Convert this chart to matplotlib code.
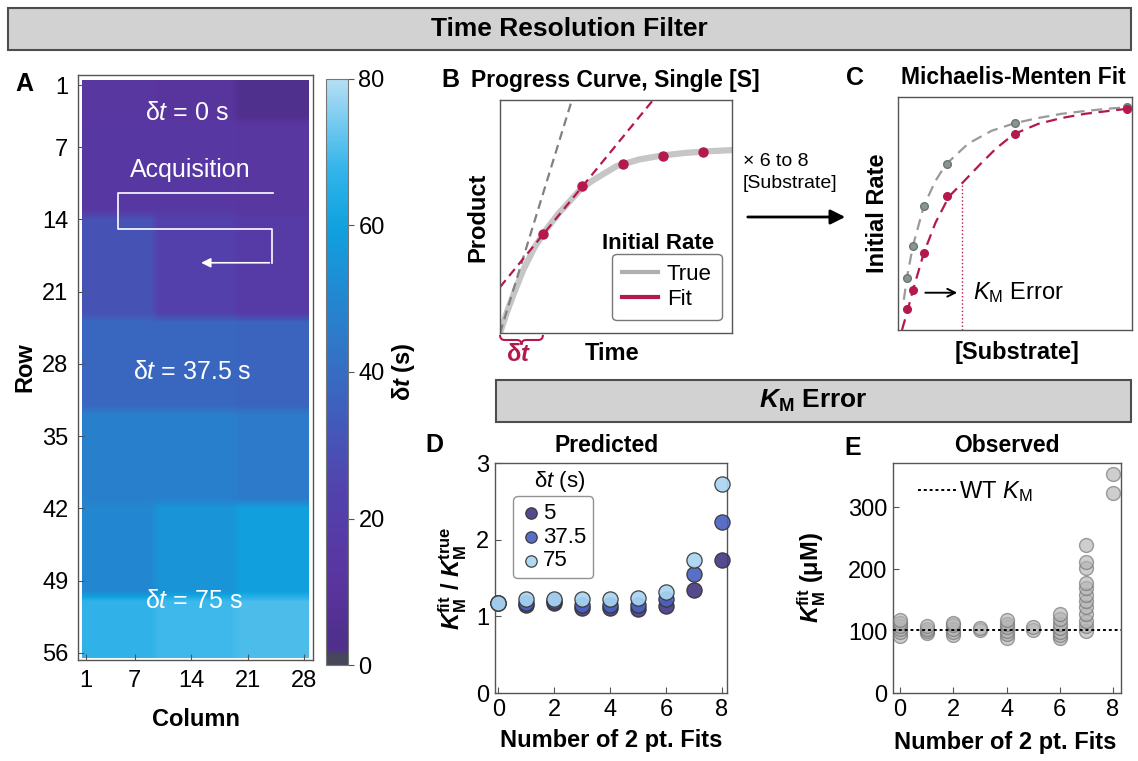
import numpy as np
import matplotlib
matplotlib.use('Agg')
import matplotlib.pyplot as plt
from matplotlib.colors import LinearSegmentedColormap
from matplotlib.patches import Rectangle, PathPatch, FancyArrowPatch
from matplotlib.path import Path

plt.rcParams['font.family'] = ['Liberation Sans', 'DejaVu Sans']
plt.rcParams['mathtext.fontset'] = 'custom'
plt.rcParams['mathtext.rm'] = 'Liberation Sans'
plt.rcParams['mathtext.it'] = 'Liberation Sans:italic'
plt.rcParams['mathtext.bf'] = 'Liberation Sans:bold'
plt.rcParams['mathtext.bfit'] = 'Liberation Sans:italic:bold'

# ---- data ----
# panel A: plate map of delay time (s), bands of rows x 3 column groups
band_row_start = [1, 5, 14, 24, 33, 42, 51]
band_row_end = [4, 13, 23, 32, 41, 50, 56]
group_col_start = [1, 10, 20]
group_col_end = [9, 19, 28]
dt_left = [14, 15, 30, 38, 47, 50, 67]
dt_mid = [11, 15, 22, 38, 47, 55, 69]
dt_right = [4, 14, 17, 37, 45, 59, 70]

# panel B: progress curve (arbitrary units)
time_true = [0, 0.03, 0.06, 0.1, 0.15, 0.2, 0.25, 0.3, 0.35, 0.4, 0.5, 0.6, 0.7, 0.8, 0.9, 1.0]
product_true = [0, 0.09, 0.17, 0.27, 0.37, 0.445, 0.51, 0.565, 0.62, 0.655, 0.715, 0.745, 0.762, 0.773, 0.78, 0.785]
time_pts = [0.185, 0.353, 0.53, 0.703, 0.875]
product_pts = [0.425, 0.631, 0.725, 0.76, 0.777]
true_rate_x = [0, 0.31]
true_rate_y = [0, 1.0]
fit_rate_x = [0, 0.66]
fit_rate_y = [0.197, 1.0]

# panel C: Michaelis-Menten
substrate = [0.04, 0.064, 0.111, 0.21, 0.498, 0.98]
rate_true = [0.224, 0.362, 0.534, 0.711, 0.888, 0.955]
rate_fit = [0.091, 0.172, 0.332, 0.573, 0.841, 0.948]
mm_x_true = [0.025, 0.038, 0.064, 0.111, 0.16, 0.205, 0.3, 0.4, 0.5, 0.6, 0.7, 0.8, 0.9, 1.0]
mm_y_true = [0.13, 0.224, 0.362, 0.534, 0.64, 0.711, 0.8, 0.855, 0.888, 0.91, 0.928, 0.94, 0.95, 0.958]
mm_x_fit = [0.017, 0.043, 0.064, 0.111, 0.16, 0.218, 0.274, 0.35, 0.42, 0.496, 0.6, 0.7, 0.8, 0.9, 1.0]
mm_y_fit = [0.0, 0.091, 0.172, 0.332, 0.46, 0.573, 0.63, 0.71, 0.78, 0.841, 0.885, 0.91, 0.928, 0.94, 0.952]
km_fit_x = 0.274
km_fit_y = 0.63

# panel D: predicted KM ratio
n_fits = [0, 1, 2, 3, 4, 5, 6, 7, 8]
pred_5 = [1.17, 1.15, 1.18, 1.11, 1.11, 1.09, 1.13, 1.34, 1.73]
pred_37 = [1.17, 1.18, 1.20, 1.15, 1.15, 1.15, 1.23, 1.55, 2.23]
pred_75 = [1.18, 1.23, 1.23, 1.22, 1.22, 1.24, 1.32, 1.73, 2.72]

# panel E: observed KM
obs_fits = [0, 0, 0, 0, 0, 0, 1, 1, 1, 1, 2, 2, 2, 2, 2, 3, 3, 4, 4, 4, 4, 4, 4, 5, 5,
            6, 6, 6, 6, 6, 6, 6, 7, 7, 7, 7, 7, 7, 7, 7, 7, 7, 7, 7, 8, 8]
obs_km = [92, 98, 103, 108, 113, 117, 96, 100, 104, 108, 93, 99, 104, 110, 113, 101, 105,
          88, 95, 100, 106, 112, 118, 102, 107, 88, 93, 99, 105, 112, 120, 127,
          100, 108, 116, 128, 138, 149, 158, 170, 178, 201, 211, 239, 322, 353]
wt_km = 102

cmap_pos = [0.0, 0.015, 0.025, 0.15, 0.3, 0.45, 0.55, 0.65, 0.75, 0.85, 1.0]
cmap_col = ['#47475a', '#47475a', '#4e2f8a', '#5a35a0', '#5243ad', '#3d62bd',
            '#2f78c8', '#1f8cd3', '#0fa2df', '#34b5ea', '#b4def4']
red = '#b3194b'

W, H = 1138, 761
fig = plt.figure(figsize=(W / 100, H / 100), dpi=100)


def ax_px(l, t, r, b):
    return fig.add_axes([l / W, 1 - b / H, (r - l) / W, (b - t) / H])


def ftext(x, y, s, **kw):
    return fig.text(x / W, 1 - y / H, s, **kw)


def style(ax, ticks=True, pad=4):
    for sp in ax.spines.values():
        sp.set_color('#555555')
        sp.set_linewidth(1)
    if ticks:
        ax.tick_params(direction='in', length=4, color='#555555', labelsize=17, pad=pad)
    else:
        ax.set_xticks([])
        ax.set_yticks([])


def labels(ax, xl, xpos, yl, ypos):
    ax.set_xlabel(xl, fontsize=17, fontweight='bold', va='center')
    ax.xaxis.set_label_coords(xpos[0] / W, 1 - xpos[1] / H, transform=fig.transFigure)
    ax.set_ylabel(yl, fontsize=17, fontweight='bold', va='center')
    ax.yaxis.set_label_coords(ypos[0] / W, 1 - ypos[1] / H, transform=fig.transFigure)


def banner(l, t, r, b, s):
    fig.add_artist(Rectangle((l / W, 1 - b / H), (r - l) / W, (b - t) / H, transform=fig.transFigure,
                             fc='#d2d2d2', ec='#4d4d4d', lw=1.5))
    ftext((l + r) / 2, (t + b) / 2, s, ha='center', va='center', fontsize=19, fontweight='bold',
          family=['Liberation Sans Narrow', 'Liberation Sans'])


banner(8, 8, 1131, 50, 'Time Resolution Filter')
banner(496, 380, 1131, 422, r'$\mathbfit{K}_\mathbf{M}$ Error')

# ---- A ----
grid = np.zeros((56, 28))
for i in range(len(band_row_start)):
    for j, vals in enumerate([dt_left, dt_mid, dt_right]):
        grid[band_row_start[i] - 1:band_row_end[i], group_col_start[j] - 1:group_col_end[j]] = vals[i]

cmap = LinearSegmentedColormap.from_list('dt', list(zip(cmap_pos, cmap_col)))
axA = ax_px(78, 75, 313, 660)
im = axA.imshow(grid, cmap=cmap, vmin=0, vmax=80, aspect='auto', interpolation='bilinear',
                extent=(0.5, 28.5, 56.5, 0.5))
axA.set_xlim(0.0, 29.1)
axA.set_ylim(56.7, 0.0)
axA.set_xticks([1, 7, 14, 21, 28])
axA.set_yticks([1, 7, 14, 21, 28, 35, 42, 49, 56])
style(axA, pad=7)
labels(axA, 'Column', (196, 720), 'Row', (25, 367))
for x, y, s in [(13.5, 3.7, r'δ$t$ = 0 s'), (13.9, 9.2, 'Acquisition'),
                (14.1, 28.8, r'δ$t$ = 37.5 s'), (14.3, 51.0, r'δ$t$ = 75 s')]:
    axA.text(x, y, s, color='white', fontsize=18, ha='center', va='center')
axA.plot([24.2, 5.0, 5.0, 24.0, 24.0], [11.4, 11.4, 14.9, 14.9, 18.2], color='white', lw=1.2)
axA.annotate('', xy=(14.9, 18.2), xytext=(24.05, 18.2),
             arrowprops=dict(arrowstyle='-|>', color='white', lw=1.2, mutation_scale=14))

cax = ax_px(326, 79, 348, 665)
cb = fig.colorbar(im, cax=cax, ticks=[0, 20, 40, 60, 80])
cb.outline.set_edgecolor('#777777')
cb.outline.set_linewidth(0.8)
cax.tick_params(labelsize=17, length=4, color='#555555')
cb.set_label(r'δ$\mathbfit{t}$ (s)', fontsize=17, fontweight='bold', labelpad=4)

# ---- B ----
axB = ax_px(500, 100, 732, 333)
axB.plot(time_true, product_true, color='#c6c6c6', lw=4.5, solid_capstyle='round', solid_joinstyle='round')
axB.plot(true_rate_x, true_rate_y, color='#808080', lw=1.6, ls=(0, (4, 2.5)))
axB.plot(fit_rate_x, fit_rate_y, color=red, lw=1.6, ls=(0, (4, 2.5)))
axB.plot(time_pts, product_pts, 'o', color=red, ms=6.5)
axB.set_xlim(0, 1)
axB.set_ylim(0, 1)
style(axB, ticks=False)
labels(axB, 'Time', (612, 353), 'Product', (478, 217))
axB.text(0.683, 0.386, 'Initial Rate', transform=axB.transAxes, fontsize=16, fontweight='bold',
         ha='center', va='center')
hT, = axB.plot([], [], color='#b0b0b0', lw=3, label='True')
hF, = axB.plot([], [], color=red, lw=3, label='Fit')
legB = axB.legend(handles=[hT, hF], loc='lower right', bbox_to_anchor=(0.955, 0.056), fontsize=16,
                  frameon=True, fancybox=True, edgecolor='#555555', handlelength=1.6,
                  handletextpad=0.4, borderpad=0.45, labelspacing=0.2, borderaxespad=0)
legB.get_frame().set_linewidth(1)
ym, yt, ytip, x1 = -0.03, -0.008, -0.05, time_pts[0]
xm = x1 / 2
verts = [(0, yt), (0, ym), (0.02, ym), (xm - 0.02, ym), (xm, ym), (xm, ytip),
         (xm, ym), (xm + 0.02, ym), (x1 - 0.02, ym), (x1, ym), (x1, yt)]
codes = [Path.MOVETO, Path.CURVE3, Path.CURVE3, Path.LINETO, Path.CURVE3, Path.CURVE3,
         Path.CURVE3, Path.CURVE3, Path.LINETO, Path.CURVE3, Path.CURVE3]
axB.add_patch(PathPatch(Path(verts, codes), fc='none', ec=red, lw=1.5, clip_on=False))
ftext(518, 355, r'δ$\mathbfit{t}$', color=red, fontsize=17, fontweight='bold', ha='center', va='center')

# arrow B -> C
ftext(743, 162, '× 6 to 8', fontsize=14, ha='left', va='center')
ftext(743, 184, '[Substrate]', fontsize=14, ha='left', va='center')
fig.add_artist(FancyArrowPatch((745 / W, 1 - 217 / H), (848 / W, 1 - 217 / H), transform=fig.transFigure,
                               arrowstyle='-|>', mutation_scale=22, lw=2, color='black'))

# ---- C ----
axC = ax_px(898, 97, 1132, 330)
axC.plot(mm_x_true, mm_y_true, color='#9a9a9a', lw=1.6, ls=(0, (5, 3)))
axC.plot(mm_x_fit, mm_y_fit, color=red, lw=1.6, ls=(0, (5, 3)))
axC.plot(substrate, rate_true, 'o', color='#8a9590', mec='#6a7570', ms=5.5)
axC.plot(substrate, rate_fit, 'o', color=red, ms=5.5)
axC.plot([km_fit_x, km_fit_x], [0, km_fit_y], color=red, lw=1, ls=':')
axC.annotate('', xy=(0.265, 0.16), xytext=(0.105, 0.16), xycoords='axes fraction',
             arrowprops=dict(arrowstyle='->', color='black', lw=1.4, mutation_scale=14))
axC.text(0.32, 0.16, r'$K_\mathrm{M}$ Error', transform=axC.transAxes, fontsize=17, va='center')
axC.set_xlim(0, 1)
axC.set_ylim(0, 1)
style(axC, ticks=False)
labels(axC, '[Substrate]', (1017, 353), 'Initial Rate', (877, 213))

# ---- D ----
axD = ax_px(495, 463, 727, 693)
sD = []
for vals, col, lab in [(pred_5, '#463a85', '5'), (pred_37, '#4b62c0', '37.5'), (pred_75, '#a9d5f2', '75')]:
    sD.append(axD.scatter(n_fits, vals, s=120, color=col, edgecolor='#333333', lw=0.9,
                          alpha=0.92, clip_on=False, zorder=3, label=lab))
axD.set_xlim(-0.12, 8.18)
axD.set_ylim(0, 3)
axD.set_xticks([0, 2, 4, 6, 8])
axD.set_yticks([0, 1, 2, 3])
style(axD)
labels(axD, 'Number of 2 pt. Fits', (611, 740),
       r'$\mathbfit{K}_\mathbf{M}^\mathbf{fit}$ / $\mathbfit{K}_\mathbf{M}^\mathbf{true}$', (453, 578))
axD.text(0.28, 0.92, r'δ$t$ (s)', transform=axD.transAxes, fontsize=16, ha='center', va='center')
legD = axD.legend(handles=sD, loc='upper left', bbox_to_anchor=(0.078, 0.855), fontsize=16,
                  frameon=True, fancybox=True, edgecolor='#777777', handletextpad=0.05,
                  borderpad=0.3, labelspacing=0.12, handlelength=1.0, borderaxespad=0,
                  markerscale=0.75)
legD.get_frame().set_linewidth(1)

# ---- E ----
axE = ax_px(893, 463, 1121, 693)
axE.scatter(obs_fits, obs_km, s=100, color='#b5b5b5', edgecolor='#707070', lw=1, alpha=0.65,
            clip_on=False, zorder=3)
hWT = axE.axhline(wt_km, color='black', lw=1.4, ls=(0, (1.5, 1.5)), zorder=4, label=r'WT $K_\mathrm{M}$')
axE.set_xlim(-0.27, 8.3)
axE.set_ylim(0, 371)
axE.set_xticks([0, 2, 4, 6, 8])
axE.set_yticks([0, 100, 200, 300])
style(axE)
labels(axE, 'Number of 2 pt. Fits', (1005, 743),
       r'$\mathbfit{K}_\mathbf{M}^\mathbf{fit}$ (μM)', (812, 578))
axE.legend(handles=[hWT], loc='center left', bbox_to_anchor=(0.1, 0.874), fontsize=17, frameon=False,
           handlelength=1.6, handletextpad=0.15, borderpad=0.1, borderaxespad=0)

# titles and panel letters
for x, y, s in [(615, 80, 'Progress Curve, Single [S]'), (1013, 78, 'Michaelis-Menten Fit'),
                (607, 445, 'Predicted'), (1007, 445, 'Observed')]:
    ftext(x, y, s, fontsize=16.5, fontweight='bold', ha='center', va='center')
for x, y, s in [(24, 84, 'A'), (450, 80, 'B'), (855, 78, 'C'), (434, 445, 'D'), (853, 448, 'E')]:
    ftext(x, y, s, fontsize=18, fontweight='bold', ha='center', va='center')

fig.savefig('out.png', dpi=100)
